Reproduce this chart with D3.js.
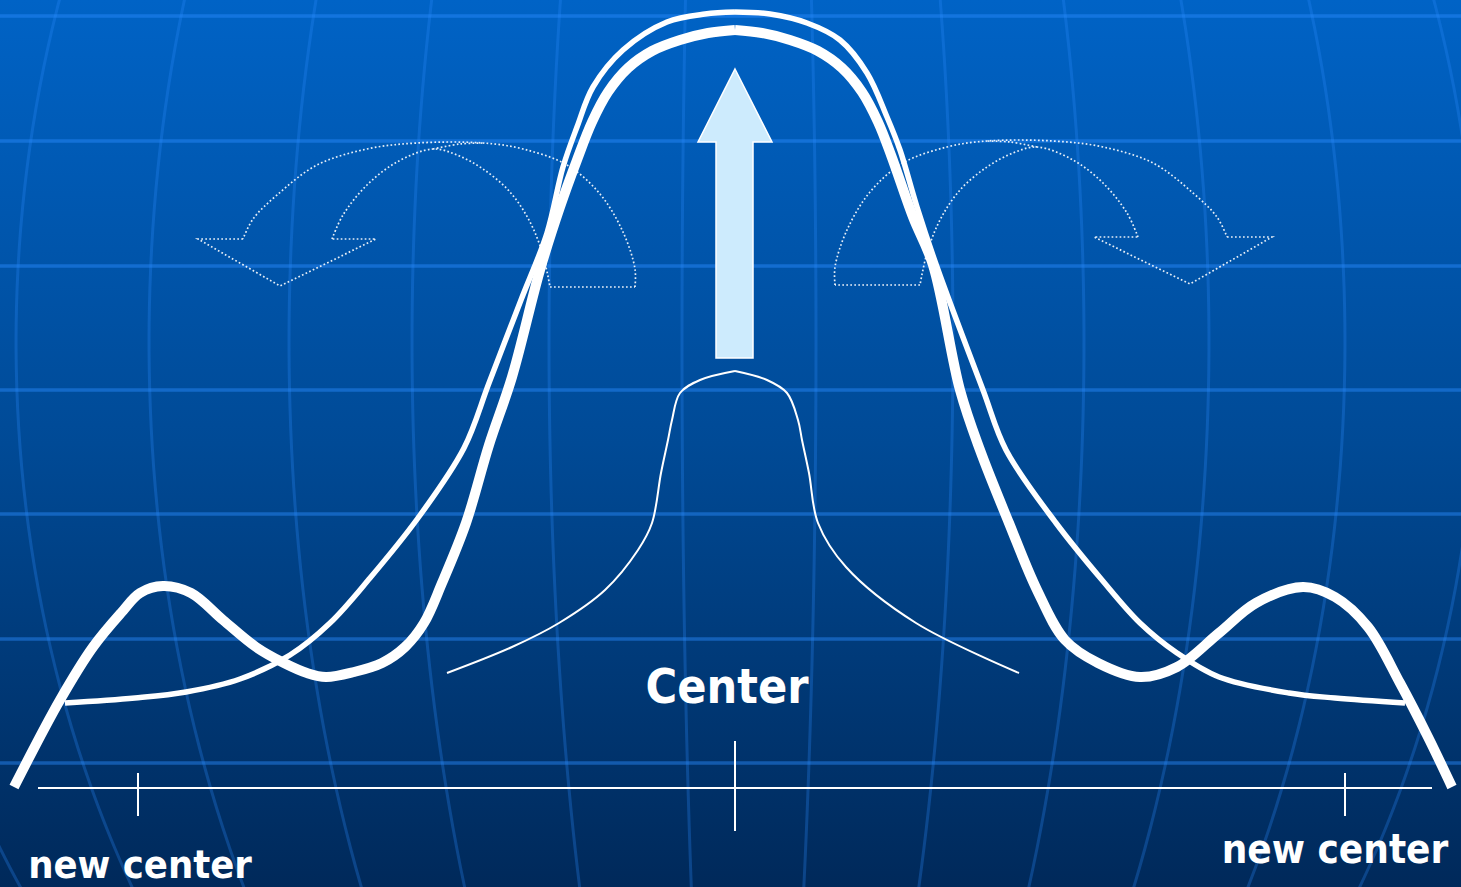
<!DOCTYPE html>
<html>
<head>
<meta charset="utf-8">
<script src="https://cdn.jsdelivr.net/npm/d3@7"></script>
<style>
html,body{margin:0;padding:0;overflow:hidden;background:#003c7c;}
svg{display:block;}
</style>
</head>
<body>
<svg id="chart" width="1461" height="887"></svg>
<script>
// ---------- data (x: offset from center, y: height above baseline) ----------
const gridRows = [77.2, 64.7, 52.2, 39.8, 27.4, 14.9, 2.5];
const gridMeridians = [-85.2, -71.9, -58.6, -44.6, -32.3, -18.6, -5.3, 8.1, 21.8, 34.9, 47.4, 61.0, 74.3];

const thickLeft = [[-72.1,0.1],[-67.5,8.8],[-64.2,14.1],[-61.4,17.5],[-59.5,19.5],[-57.2,20.2],[-54.4,19.5],
  [-51.2,16.8],[-47.9,14.1],[-45.1,12.5],[-42.8,11.5],[-40.9,11.1],[-38.1,11.6],[-35.3,12.5],[-33.0,14.1],
  [-31.1,16.5],[-29.3,20.5],[-26.9,26.5],[-24.6,34.3],[-22.3,41.1],[-19.5,51.8],[-17.5,58.1],[-15.8,62.8],
  [-14.3,66.6],[-12.7,69.6],[-10.7,72.0],[-8.3,73.7],[-5.5,74.8],[-2.7,75.5],[0,75.8]];
const thickRight = [[0,75.8],[2.7,75.5],[5.5,74.8],[8.3,73.7],[10.7,72.0],[12.7,69.6],[14.3,66.6],[15.6,63.3],
  [17.8,57.1],[19.8,52.3],[22.5,39.8],[24.5,33.8],[27.4,26.5],[30.2,19.8],[33.0,14.8],[36.3,12.5],[40.5,11.1],
  [44.2,12.1],[48.4,15.5],[52.1,18.5],[56.8,20.1],[60.0,19.1],[63.3,16.1],[66.5,10.5],[69.3,5.1],[71.7,0.1]];

const mediumLeft = [[-67.0,8.5],[-60.0,9.0],[-54.9,9.6],[-49.5,10.9],[-44.5,13.3],[-40.5,16.5],[-36.5,21.0],
  [-31.7,27.0],[-27.1,34.0],[-24.6,40.5],[-21.4,48.8],[-18.8,55.5],[-17.2,62.1],[-15.8,66.1],[-14.2,70.1],
  [-11.2,73.8],[-6.8,76.6],[-3.0,77.4],[0,77.6]];
const mediumRight = [[0,77.6],[3.5,77.4],[7.2,76.5],[10.5,74.8],[13.2,71.5],[15.2,67.1],[16.5,63.8],[18.2,58.1],
  [20.2,52.1],[24.8,39.8],[27.1,33.8],[32.1,26.5],[36.7,20.8],[40.5,16.5],[44.2,13.5],[48.4,11.1],[55.4,9.5],
  [60.0,9.0],[67.0,8.5]];

const thinLeft = [[-28.8,11.5],[-22.3,14.1],[-17.6,16.5],[-13.0,19.8],[-9.7,23.8],[-8.3,26.5],[-7.4,31.5],
  [-6.7,34.8],[-6.3,36.8],[-5.5,39.5],[-3.5,40.8],[0,41.7]];
const thinRight = [[0,41.7],[3.2,40.8],[5.2,39.5],[6.3,36.8],[6.7,34.8],[7.4,31.5],[8.3,26.5],[11.1,22.1],
  [18.1,16.5],[28.4,11.5]];

// big upward arrow
const bigArrow = [[0,71.9],[3.7,64.6],[1.8,64.6],[1.8,43.0],[-1.9,43.0],[-1.9,64.6],[-3.7,64.6]];

// curved (dotted) arrow, right-hand version; left one is its mirror image
const curvedOuter = [[10.0,50.3],[10.0,52.1],[11.2,55.8],[13.5,59.6],[16.8,62.5],[21.2,64.1],[25.2,64.7],
  [31.8,64.7],[36.8,64.1],[41.8,62.5],[45.8,59.5],[48.2,57.1],[49.2,55.1]];
const curvedHead = [[49.2,55.1],[53.7,55.1],[45.5,50.4],[35.9,55.1],[40.3,55.1]];
const curvedInner = [[40.3,55.1],[39.2,57.5],[36.8,60.5],[33.8,62.8],[30.2,64.1],[27.8,63.5],[25.2,62.1],
  [22.5,59.8],[20.5,56.8],[19.2,53.5],[18.5,50.3]];
const curvedBase = [[18.5,50.3],[10.0,50.3]];
const curvedBack = [[30.2,64.1],[27.5,64.6],[25.0,64.7]];

const axisExtent = [-69.7, 69.7];
const axisTicks = [{x:-59.7, up:1.5, down:-2.8},{x:0, up:4.7, down:-4.3},{x:61.0, up:1.5, down:-2.8}];

const labels = [
  {text:"Center", x:-0.8, y:8.5, size:48, anchor:"middle"},
  {text:"new center", x:-59.5, y:-9.0, size:39.5, anchor:"middle"},
  {text:"new center", x:60.0, y:-7.5, size:40, anchor:"middle"}
];

// ---------- drawing ----------
const W = 1461, H = 887;
const svg = d3.select("#chart");
const xS = d3.scaleLinear().domain([-60,60]).range([135,1335]);
const yS = d3.scaleLinear().domain([0,78]).range([788,8]);

const defs = svg.append("defs");
const grad = defs.append("linearGradient").attr("id","bg").attr("x1",0).attr("y1",0).attr("x2",0).attr("y2",1);
[[0,"#0063c6"],[0.5,"#004a96"],[1,"#00295a"]].forEach(s=>grad.append("stop").attr("offset",s[0]).attr("stop-color",s[1]));
svg.append("rect").attr("width",W).attr("height",H).attr("fill","url(#bg)");

// grid
const grid = svg.append("g");
const mCx = 0.5, mYc = 44.6, mR = 100.4;
const ySamples = d3.range(-12, 81, 2);
const mLine = d3.line().x(d=>xS(d[0])).y(d=>yS(d[1])).curve(d3.curveBasis);
gridMeridians.forEach(xm=>{
  const pts = ySamples.map(y=>[mCx + (xm-mCx)*Math.sqrt(1-Math.pow((y-mYc)/mR,2)), y]);
  grid.append("path").attr("d",mLine(pts)).attr("fill","none")
    .attr("stroke","#2a8cff").attr("stroke-opacity",0.28).attr("stroke-width",3);
});
grid.selectAll("line.row").data(gridRows).enter().append("line")
  .attr("x1",0).attr("x2",W).attr("y1",d=>yS(d)).attr("y2",d=>yS(d))
  .attr("stroke","#2a8cff").attr("stroke-opacity",0.45).attr("stroke-width",3.5);

// dotted curved arrows
const lin = d3.line().x(d=>xS(d[0])).y(d=>yS(d[1]));
const smooth = d3.line().x(d=>xS(d[0])).y(d=>yS(d[1])).curve(d3.curveCatmullRom.alpha(0.5));
function curvedArrow(sign, dy){
  const g = svg.append("g").attr("fill","none").attr("stroke","#ffffff").attr("stroke-opacity",0.9)
    .attr("stroke-width",1.7).attr("stroke-dasharray","1.7 2.3");
  const tf = a => a.map(p=>[sign*p[0], p[1]+dy]);
  g.append("path").attr("d",smooth(tf(curvedOuter)));
  g.append("path").attr("d",lin(tf(curvedHead)));
  g.append("path").attr("d",smooth(tf(curvedInner)));
  g.append("path").attr("d",lin(tf(curvedBase)));
  g.append("path").attr("d",smooth(tf(curvedBack)));
}
curvedArrow(1, 0);
curvedArrow(-1, -0.2);

// big arrow
svg.append("path").attr("d", lin(bigArrow)+"Z")
  .attr("fill","#cdebfd").attr("stroke","#ffffff").attr("stroke-width",1.5);

// curves
function drawCurve(left,right,w){
  [left,right].forEach(a=>{
    svg.append("path").attr("d",smooth(a)).attr("fill","none").attr("stroke","#ffffff")
      .attr("stroke-width",w).attr("stroke-linejoin","miter").attr("stroke-linecap","butt");
  });
}
drawCurve(thinLeft, thinRight, 2);
drawCurve(mediumLeft, mediumRight, 5.5);
drawCurve(thickLeft, thickRight, 10);

// axis
svg.append("line").attr("x1",xS(axisExtent[0])).attr("x2",xS(axisExtent[1]))
  .attr("y1",yS(0)).attr("y2",yS(0)).attr("stroke","#ffffff").attr("stroke-width",2);
svg.selectAll("line.tick").data(axisTicks).enter().append("line")
  .attr("x1",d=>xS(d.x)).attr("x2",d=>xS(d.x)).attr("y1",d=>yS(d.up)).attr("y2",d=>yS(d.down))
  .attr("stroke","#ffffff").attr("stroke-width",2);

// labels
svg.selectAll("text.lbl").data(labels).enter().append("text")
  .attr("x",d=>xS(d.x)).attr("y",d=>yS(d.y)).attr("text-anchor",d=>d.anchor)
  .attr("font-family","'DejaVu Sans Condensed','DejaVu Sans',sans-serif")
  .attr("font-stretch","condensed").attr("font-weight","bold")
  .attr("font-size",d=>d.size).attr("fill","#ffffff").text(d=>d.text);
</script>
</body>
</html>
